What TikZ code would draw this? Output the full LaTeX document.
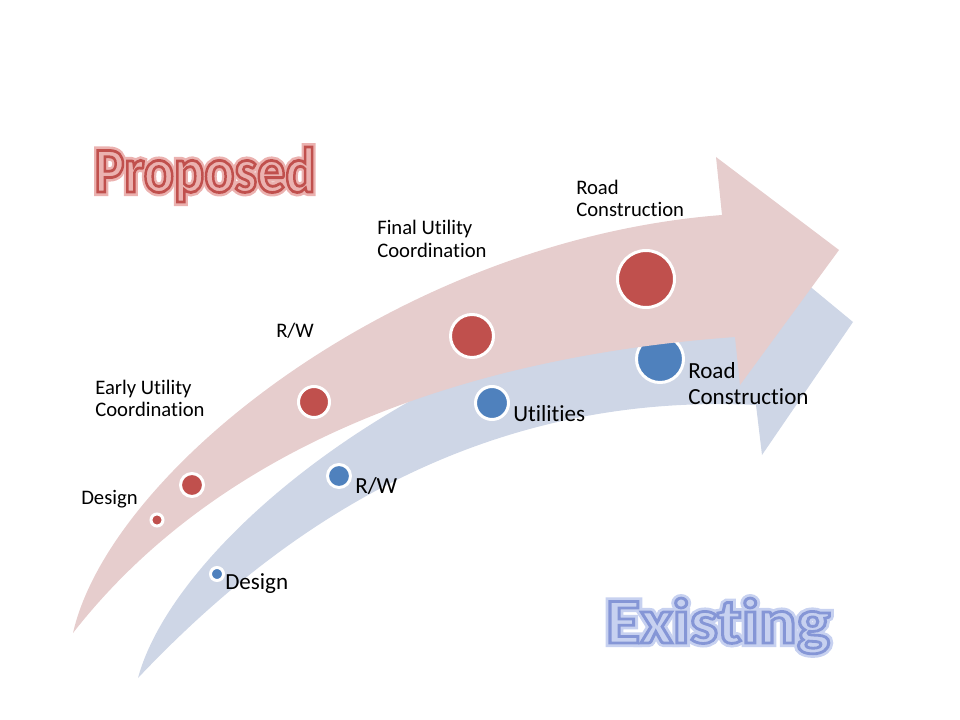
\documentclass[tikz,border=0pt]{standalone}
\usepackage{fontspec}
\setmainfont{Carlito}[Ligatures={NoCommon}]
\usetikzlibrary{arrows}
\definecolor{pred}{HTML}{C0504D}
\definecolor{eblue}{HTML}{4F81BD}
\definecolor{parrow}{HTML}{E6CDCD}
\definecolor{earrow}{HTML}{CED6E6}
\definecolor{pfill}{HTML}{FCF0F0}
\definecolor{efill}{HTML}{E4EAF8}
\newcommand{\outlined}[3]{\rlap{\special{pdf:literal direct 2 Tr 6 w #1 RG #1 rg}#3\special{pdf:literal direct 0 Tr}}\special{pdf:literal direct 2 Tr 2.1 w #2 RG}#3\special{pdf:literal direct 0 Tr}}

\begin{document}
\begin{tikzpicture}[x=0.75pt,y=-0.75pt]
\tikzset{pdot/.style={circle, inner sep=0pt, fill=pred, draw=white, line width=2.25pt}}
\tikzset{edot/.style={circle, inner sep=0pt, fill=eblue, draw=white, line width=2.25pt}}
\tikzset{plabel/.style={anchor=west, inner sep=0pt, align=left, font=\fontsize{15.5}{17}\selectfont}}
\tikzset{elabel/.style={anchor=west, inner sep=0pt, align=left, font=\fontsize{17.3}{19}\selectfont}}
\tikzset{ptitle/.style={anchor=base, inner sep=0pt, text=pfill, font=\fontsize{48}{48}\selectfont\bfseries, xscale=0.88, transform shape}}
\tikzset{etitle/.style={anchor=base, inner sep=0pt, text=efill, font=\fontsize{48}{48}\selectfont\bfseries, xscale=1.1, transform shape}}
\useasboundingbox (0,0) rectangle (960,720);

\fill[earrow] (138,678) .. controls (175,540) and (430,330) .. (744,287) -- (738,227) -- (853,322) -- (762,455) -- (756,405) .. controls (450,390) and (250,560) .. (138,678) -- cycle;
\node[edot, minimum size=9.75pt] (e1) at (217,574) {};
\node[edot, minimum size=17.25pt] (e2) at (339,476) {};
\node[edot, minimum size=24.75pt] (e3) at (492,403) {};
\node[edot, minimum size=35.25pt] (e4) at (660,359) {};

\fill[parrow] (73,633) .. controls (110,470) and (400,240) .. (722,215) -- (716,157) -- (839,250) -- (740,385) -- (735,337) .. controls (420,360) and (200,470) .. (73,633) -- cycle;
\node[pdot, minimum size=9pt] (p1) at (157,520) {};
\node[pdot, minimum size=17.25pt] (p2) at (192,485) {};
\node[pdot, minimum size=23.25pt] (p3) at (314,402) {};
\node[pdot, minimum size=32.25pt] (p4) at (472,336) {};
\node[pdot, minimum size=42.75pt] (p5) at (646,279) {};

\node[plabel] (p1t) at (81,499) {Design};
\node[plabel] (p2t) at (95,398.5) {Early Utility\\Coordination};
\node[plabel] (p3t) at (276,331) {R/W};
\node[plabel] (p4t) at (377,239) {Final Utility\\Coordination};
\node[plabel] (p5t) at (576,198.5) {Road\\Construction};
\node[elabel] (e1t) at (225,584) {Design};
\node[elabel] (e2t) at (355,486) {R/W};
\node[elabel] (e3t) at (513,414) {Utilities};
\node[elabel] (e4t) at (688,383.5) {Road\\Construction};

\node[ptitle] (ptitle) at (205,192) {\outlined{0.92 0.70 0.69}{0.753 0.314 0.302}{Proposed}};
\node[etitle] (etitle) at (718,643) {\outlined{0.78 0.82 0.94}{0.52 0.59 0.84}{Existing}};
\end{tikzpicture}
\end{document}
